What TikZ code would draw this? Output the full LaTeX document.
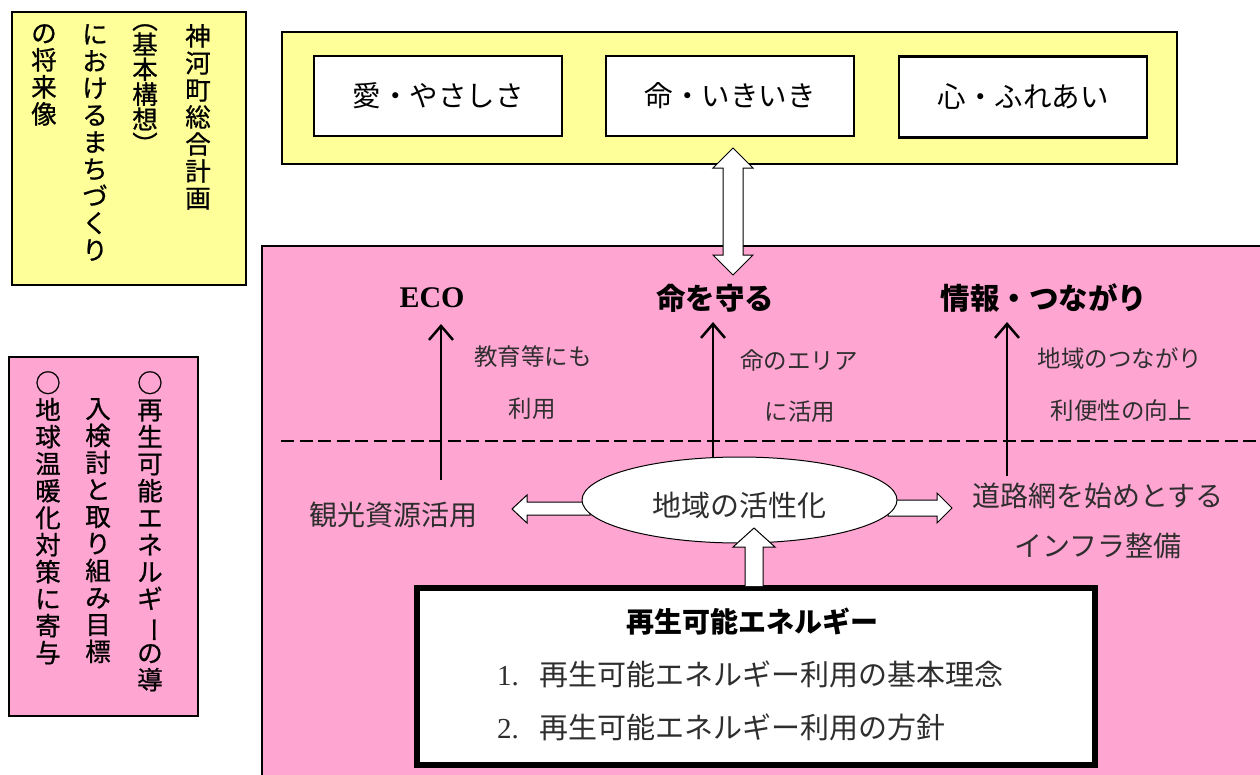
\documentclass[tikz,border=0pt]{standalone}
\usepackage{fontspec}
\usepackage{graphicx}
\newfontfamily\cjk{Noto Sans CJK JP}
\newfontfamily\cjkm[FakeBold=0.8]{Noto Sans CJK JP}
\newfontfamily\ser{Liberation Serif}
\usetikzlibrary{arrows.meta,shapes.geometric}
\definecolor{lyellow}{HTML}{FFFF99}
\definecolor{lpink}{HTML}{FFA5D2}
\definecolor{txtgray}{HTML}{2E2E2E}
\newcommand{\vbar}{\rotatebox[origin=c]{-90}{ー}}
\begin{document}
\begin{tikzpicture}[x=1pt,y=-1pt,
  outerbox/.style={rectangle, draw=black, line width=1.5pt, anchor=north west, inner sep=0pt},
  innerbox/.style={rectangle, draw=black, fill=white, line width=2.5pt, inner sep=0pt, minimum width=248pt, minimum height=80pt, font=\cjk\fontsize{28.5}{30}\selectfont},
  vcol/.style={font=\cjkm\fontsize{25.5}{27}\selectfont, align=center, anchor=north, inner sep=0pt},
  headlab/.style={font=\cjk\bfseries\fontsize{29.5}{30}\selectfont, inner sep=0pt},
  smalllab/.style={font=\cjk\fontsize{23.5}{26}\selectfont, text=txtgray, inner sep=0pt},
  midlab/.style={font=\cjk\fontsize{28}{30}\selectfont, text=txtgray, inner sep=0pt},
  blockarrow/.style={draw=black, fill=white, line width=1pt, line join=miter},
  thinarrow/.style={draw=black, line width=2.5pt, -{Straight Barb[length=14pt,width=24pt]}}
]
\useasboundingbox (0,0) rectangle (1260,774);
\fill[white] (0,0) rectangle (1260,774);

% left yellow box with vertical text
\node[outerbox, fill=lyellow, minimum width=234pt, minimum height=273pt] (yl) at (11,11) {};
\node[vcol] (v1) at (198,24) {神\\河\\町\\総\\合\\計\\画};
\node[vcol, font=\cjkm\fontsize{25.5}{25}\selectfont] (v2) at (145,24) {︵\\基\\本\\構\\想\\︶};
\node[vcol] (v3) at (95,24) {に\\お\\け\\る\\ま\\ち\\づ\\く\\り};
\node[vcol] (v4) at (44,24) {の\\将\\来\\像};

% left pink box with vertical text
\node[outerbox, fill=lpink, minimum width=189pt, minimum height=359pt] (pl) at (8,356) {};
\node[vcol] (p1) at (150,371) {○\\再\\生\\可\\能\\エ\\ネ\\ル\\ギ\\\vbar\\の\\導};
\node[vcol] (p2) at (98,398) {入\\検\\討\\と\\取\\り\\組\\み\\目\\標};
\node[vcol] (p3) at (48,371) {○\\地\\球\\温\\暖\\化\\対\\策\\に\\寄\\与};

% top yellow box
\node[outerbox, fill=lyellow, minimum width=895pt, minimum height=132pt] (top) at (281,31) {};
\node[innerbox] (ai) at (438,96) {愛・やさしさ};
\node[innerbox] (inochi) at (730,96) {命・いきいき};
\node[innerbox, minimum height=81pt] (kokoro) at (1023,97) {心・ふれあい};

% pink main area
\node[outerbox, fill=lpink, minimum width=1010pt, minimum height=540pt] (main) at (261,245) {};

% double block arrow between top box and pink area
\draw[blockarrow] (733,148) -- (753,168) -- (743,168) -- (743,255) -- (753,255) -- (733,275)
  -- (713,255) -- (723,255) -- (723,168) -- (713,168) -- cycle;

% headings
\node[font=\ser\bfseries\fontsize{30}{32}\selectfont, inner sep=0pt] (eco) at (432,298) {ECO};
\node[headlab] (mamoru) at (715,298) {命を守る};
\node[headlab] (joho) at (1044,298) {情報・つながり};

% small labels
\node[smalllab] (s1) at (533,357) {教育等にも};
\node[smalllab] (s2) at (532,409) {利用};
\node[smalllab] (s3) at (799,361) {命のエリア};
\node[smalllab] (s4) at (800,412) {に活用};
\node[smalllab] (s5) at (1120,358) {地域のつながり};
\node[smalllab] (s6) at (1121,411) {利便性の向上};

% dashed line
\coordinate (dl) at (281,441);
\coordinate (dr) at (1262,441);
\draw[line width=2pt, dash pattern=on 13pt off 5.5pt] (dl) -- (dr);

% side labels
\node[midlab] (kanko) at (393,515) {観光資源活用};
\node[midlab, align=center, font=\cjk\fontsize{28}{50}\selectfont] (doro) at (1098,521) {道路網を始めとする\\インフラ整備};

% block arrows from ellipse
\draw[blockarrow] (590,502) -- (527,502) -- (527,495) -- (512,509) -- (527,523) -- (527,515) -- (590,515) -- cycle;
\draw[blockarrow] (888,500) -- (937,500) -- (937,493) -- (952,508) -- (937,523) -- (937,516) -- (888,516) -- cycle;

% ellipse
\node[ellipse, draw=black, fill=white, line width=1pt, minimum width=315pt, minimum height=86pt, inner sep=0pt] (ell) at (739.5,500) {};
\node[midlab, font=\cjk\fontsize{29}{30}\selectfont] (katsu) at (739.5,505) {地域の活性化};

% thin arrows upward
\coordinate (a1s) at (441,480);
\coordinate (a1e) at (441,324);
\coordinate (a2e) at (713,322);
\coordinate (a3s) at (1007,476);
\coordinate (a3e) at (1007,322);
\draw[thinarrow] (a1s) -- (a1e);
\draw[thinarrow] (ell.north -| a2e) -- (a2e);
\draw[thinarrow] (a3s) -- (a3e);

% bottom box
\node[rectangle, draw=black, fill=white, line width=6pt, anchor=north west, inner sep=0pt,
  minimum width=678pt, minimum height=177pt] (re) at (414,585) {};
% up block arrow
\draw[blockarrow] (745,586) -- (745,547) -- (733,547) -- (754,528) -- (775,547) -- (763,547) -- (763,586);

\node[headlab, font=\cjk\bfseries\fontsize{28}{30}\selectfont] (reh) at (752,622) {再生可能エネルギー};
\node[anchor=west, inner sep=0pt, font=\cjk\fontsize{29}{30}\selectfont, text=txtgray] (r1) at (497,674)
  {{\ser 1.}\hspace{21pt}再生可能エネルギー利用の基本理念};
\node[anchor=west, inner sep=0pt, font=\cjk\fontsize{29}{30}\selectfont, text=txtgray] (r2) at (497,727)
  {{\ser 2.}\hspace{21pt}再生可能エネルギー利用の方針};
\end{tikzpicture}
\end{document}
